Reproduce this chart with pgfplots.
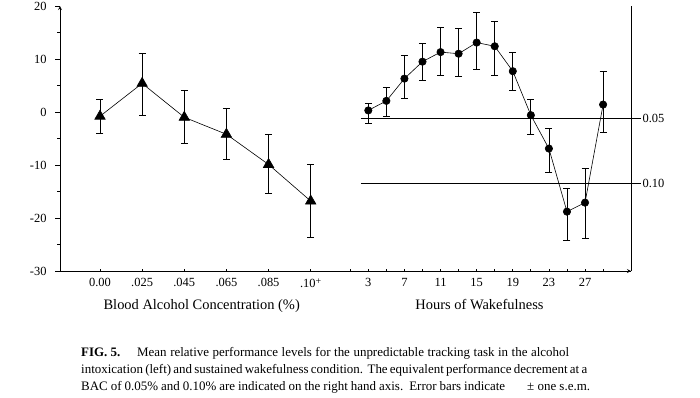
\documentclass[border=0pt]{standalone}
\usepackage{pgfplots}
\pgfplotsset{compat=1.18}
\usepackage{fontspec}
\setmainfont{Liberation Serif}
\begin{document}
\begin{tikzpicture}
\useasboundingbox (0bp,0bp) rectangle (700bp,-398bp);
\pgfplotsset{
  common/.style={
    scale only axis, width=571bp, height=265bp,
    at={(60bp,-271bp)}, anchor=south west,
    ymin=-30, ymax=20,
    axis line style={-, line width=0.8bp},
    every tick/.style={black, line width=0.8bp},
    /pgf/number format/assume math mode=true,
    tick label style={font=\fontsize{12.5}{14}\selectfont},
    clip=false,
  }
}
\begin{axis}[common,
  xmin=-0.949, xmax=12.6,
  axis x line=bottom, axis y line=left,
  xtick={0,1,2,3,4,5},
  xticklabels={0.00,.025,.045,.065,.085,{.10\raisebox{3bp}{\fontsize{10}{11}\selectfont+}}},
  ytick={-30,-20,-10,0,10,20}, minor ytick={-25,-15,-5,5,15},
  tick align=outside, xtick align=inside,
  major tick length=5bp, minor tick length=3bp,
  x tick style={/pgfplots/major tick length=2.5bp},
  xticklabel style={yshift=-4bp},
  yticklabel style={xshift=-5bp},
]
\addplot+[black, solid, line width=0.6bp, mark=triangle*, mark size=6bp,
  mark options={fill=black, solid},
  error bars/.cd, y dir=both, y explicit,
  error bar style={line width=0.8bp},
  error mark options={black, line width=0.8bp, mark size=3.5bp, rotate=90}]
coordinates {
(0,-0.8) += (0,3.1) -= (0,3.2)
(1,5.4) += (0,5.7) -= (0,6.0)
(2,-1.0) += (0,5.0) -= (0,5.0)
(3,-4.2) += (0,4.8) -= (0,4.8)
(4,-9.9) += (0,5.6) -= (0,5.4)
(5,-16.8) += (0,7.0) -= (0,6.8)
};
\end{axis}
\begin{axis}[common,
  xmin=-31.14, xmax=32.09,
  axis x line*=bottom, axis y line*=right,
  xtick={3,7,...,27}, minor xtick={1,5,...,29},
  ytick={-1.26,-13.47}, yticklabels={0.05,0.10},
  tick align=inside,
  major tick length=2.5bp, minor tick length=2.5bp,
  y tick style={draw=none},
  xticklabel style={yshift=-4bp},
  yticklabel style={xshift=8bp},
]
\addplot[black, line width=0.8bp, forget plot] coordinates {(2.19,-1.26) (33.2,-1.26)};
\addplot[black, line width=0.8bp, forget plot] coordinates {(2.19,-13.47) (33.2,-13.47)};
\addplot+[black, solid, line width=0.6bp, mark=*, mark size=3.7bp,
  mark options={fill=black, solid},
  error bars/.cd, y dir=both, y explicit,
  error bar style={line width=0.8bp},
  error mark options={black, line width=0.8bp, mark size=3.5bp, rotate=90}]
coordinates {
(3,0.3) += (0,1.4) -= (0,2.4)
(5,2.1) += (0,2.6) -= (0,3.0)
(7,6.3) += (0,4.3) -= (0,3.8)
(9,9.5) += (0,3.5) -= (0,3.5)
(11,11.3) += (0,4.7) -= (0,4.3)
(13,11.0) += (0,4.8) -= (0,4.2)
(15,13.1) += (0,5.6) -= (0,5.0)
(17,12.4) += (0,4.7) -= (0,5.4)
(19,7.7) += (0,3.6) -= (0,3.7)
(21,-0.6) += (0,3.0) -= (0,3.7)
(23,-6.9) += (0,3.9) -= (0,4.5)
(25,-18.8) += (0,4.4) -= (0,5.4)
(27,-17.1) += (0,6.5) -= (0,6.8)
(29,1.4) += (0,6.2) -= (0,5.2)
};
\end{axis}
\node[anchor=base, font=\fontsize{14.5}{16}\selectfont] at (201.7bp,-309bp) {Blood Alcohol Concentration (\%)};
\node[anchor=base, font=\fontsize{14.5}{16}\selectfont] at (479.5bp,-309bp) {Hours of Wakefulness};
\begin{scope}[every node/.style={anchor=base west, inner sep=0pt, font=\fontsize{13}{15}\selectfont}]
\node at (81bp,-356bp) {\textbf{FIG. 5.}};
\node at (137bp,-356bp) {\hbox to 432bp{Mean relative performance levels for the unpredictable tracking task in the alcohol}};
\node at (81bp,-373bp) {\hbox to 506bp{intoxication (left) and sustained wakefulness condition.\ \ The equivalent performance decrement at a}};
\node at (81bp,-390bp) {\hbox to 424bp{BAC of 0.05\% and 0.10\% are indicated on the right hand axis.\ \ Error bars indicate}};
\node at (527bp,-390bp) {± one s.e.m.};
\end{scope}
\end{tikzpicture}
\end{document}
